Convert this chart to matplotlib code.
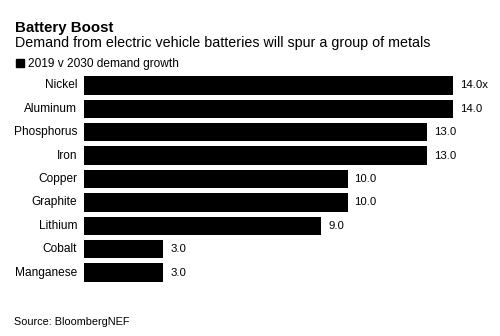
import matplotlib
matplotlib.use("Agg")
import matplotlib.pyplot as plt
from matplotlib.patches import Rectangle

plt.rcParams['font.family'] = ['Liberation Sans', 'DejaVu Sans']

metals = ["Nickel", "Aluminum", "Phosphorus", "Iron", "Copper",
          "Graphite", "Lithium", "Cobalt", "Manganese"]
growth = [14.0, 14.0, 13.0, 13.0, 10.0, 10.0, 9.0, 3.0, 3.0]
value_labels = ["14.0x", "14.0", "13.0", "13.0", "10.0", "10.0", "9.0", "3.0", "3.0"]

W, H = 500, 336
fig = plt.figure(figsize=(W / 100, H / 100), dpi=100)
fig.patch.set_facecolor("white")

# axes box in pixel terms: x from 84 to 453, y from 73.8 to 284.2 (top-down)
ax = fig.add_axes([84 / W, (H - 284.2) / H, (453 - 84) / W, (284.2 - 73.8) / H])
ypos = list(range(len(metals)))
ax.barh(ypos, growth, height=0.79, color="black")
ax.set_xlim(0, 14)
ax.set_ylim(len(metals) - 0.5, -0.5)
ax.axis("off")

px = 14 / (453 - 84)  # data units per pixel
for y, name in zip(ypos, metals):
    ax.text(-7 * px, y, name, ha="right", va="center", fontsize=8.6,
            color="black", clip_on=False)
for y, v, lab in zip(ypos, growth, value_labels):
    ax.text(v + 7 * px, y, lab, ha="left", va="center", fontsize=8.2,
            color="black", clip_on=False)

fig.text(15 / W, 1 - 32 / H, "Battery Boost", fontsize=10.8, fontweight="bold",
         ha="left", va="baseline")
fig.text(15 / W, 1 - 47.3 / H,
         "Demand from electric vehicle batteries will spur a group of metals",
         fontsize=10.3, ha="left", va="baseline")
fig.patches.append(Rectangle((16 / W, 1 - 67 / H), 8 / W, 7.5 / H,
                             transform=fig.transFigure, color="black"))
fig.text(28 / W, 1 - 67.5 / H, "2019 v 2030 demand growth", fontsize=8.6,
         ha="left", va="baseline")
fig.text(14 / W, 1 - 325 / H, "Source: BloombergNEF", fontsize=7.8,
         ha="left", va="baseline")

fig.savefig("out.png", dpi=100, facecolor="white")
